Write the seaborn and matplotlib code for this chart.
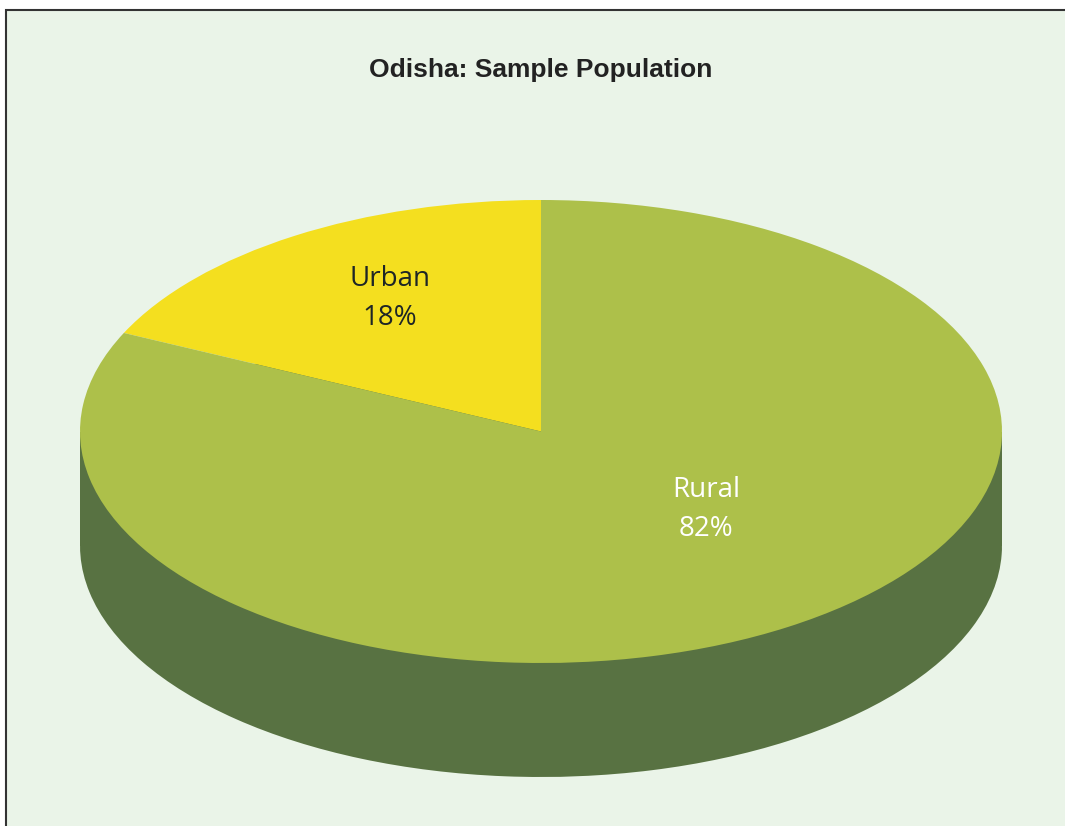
import matplotlib.pyplot as plt
import matplotlib.patches as patches
import seaborn as sns

# data
categories = ["Urban", "Rural"]
shares = [18, 82]
label_text = ["Urban\n18%", "Rural\n82%"]

sns.set_theme(style="white")
plt.rcParams['font.family'] = ['Open Sans', 'DejaVu Sans']

top_colors = sns.color_palette(["#F4DF1F", "#ADC04A"])
side_color = "#587242"
bg = "#EAF4E8"

W, H = 1065, 826
fig = plt.figure(figsize=(W / 100, H / 100), dpi=100)

# chart frame
frame = patches.Rectangle((6 / W, -0.02), 1.05, 1 - 10 / H + 0.02,
                          transform=fig.transFigure, facecolor=bg,
                          edgecolor="#333333", linewidth=1.5, zorder=-5)
fig.patches.append(frame)

fig.text(541 / W, 1 - 70 / H, "Odisha: Sample Population",
         ha="center", va="center", fontsize=19, fontweight="bold",
         color="#222222", family=['Liberation Sans', 'DejaVu Sans'])

# pie axes: top ellipse spans x 80..1002, y 200..663; side down to 777
depth = 114 / 231.5
ax = fig.add_axes([80 / W, (H - 777) / H, 922 / W, 577 / H])
ax.set_zorder(2)
ax.set_facecolor("none")

wp = dict(linewidth=0, clip_on=False)
# side (extruded body)
ax.pie(shares, center=(0, -depth), colors=[side_color] * len(shares),
       startangle=90, counterclock=True, wedgeprops=wp)
ax.fill_between([-1, 1], -depth, 0, color=side_color, linewidth=0, clip_on=False)
# top face
wedges, _ = ax.pie(shares, colors=top_colors, startangle=90,
                   counterclock=True, wedgeprops=wp)

ax.set_aspect("auto")
ax.set_xlim(-1, 1)
ax.set_ylim(-1 - depth, 1)
ax.axis("off")

label_pos = [(-0.328, 0.575), (0.358, -0.337)]
label_colors = ["#1E2626", "white"]
for txt, (x, y), c in zip(label_text, label_pos, label_colors):
    ax.text(x, y, txt, ha="center", va="center", fontsize=20,
            color=c, linespacing=1.55)

fig.savefig("out.png", dpi=100)
